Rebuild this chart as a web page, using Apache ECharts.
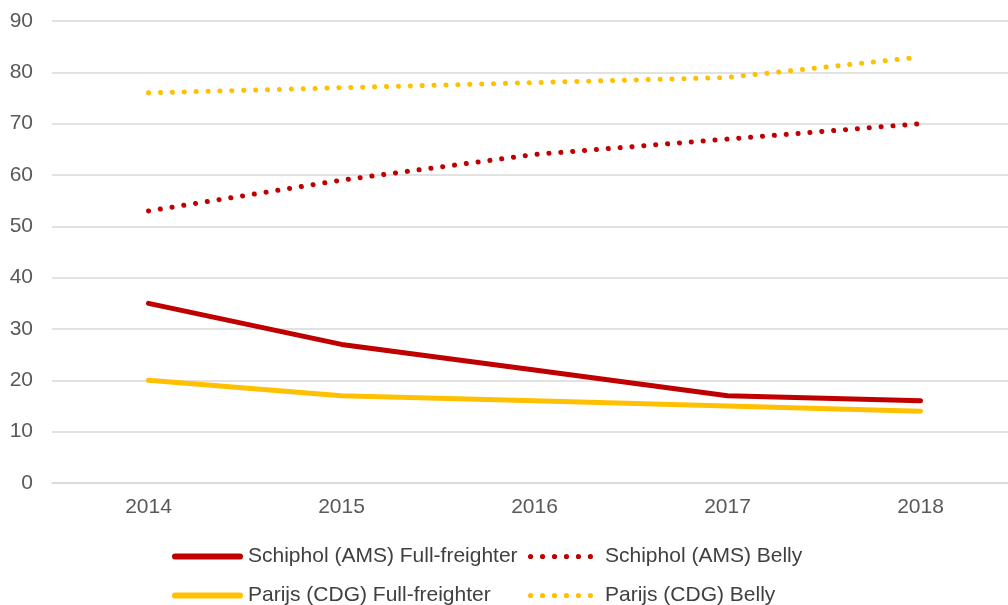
<!DOCTYPE html>
<html><head><meta charset="utf-8">
<script src="https://cdn.jsdelivr.net/npm/echarts@6/dist/echarts.min.js"></script>
<style>html,body{margin:0;padding:0;background:#fff;overflow:hidden;width:1008px;height:605px}#c{width:1017px;height:605px}</style>
</head><body><div id="c"></div>
<script>
const years = ['2014','2015','2016','2017','2018'];
const amsFull = [35, 27, 22, 17, 16];
const amsBelly = [53, 59, 64, 67, 70];
const cdgFull = [20, 17, 16, 15, 14];
const cdgBelly = [76, 77, 78, 79, 83];
const names = ['Schiphol (AMS) Full-freighter','Schiphol (AMS) Belly','Parijs (CDG) Full-freighter','Parijs (CDG) Belly'];

const RED = '#C00000', YEL = '#FFC000';
const font = '"Liberation Sans", Arial, sans-serif';
function dots(n, w, r){ let p=''; const step=(w-2*r)/(n-1); for(let i=0;i<n;i++){const cx=r+i*step; p+=`M${cx-r},${r}a${r},${r} 0 1,0 ${2*r},0a${r},${r} 0 1,0 ${-2*r},0z`;} return 'path://'+p; }
const solidIcon = 'path://M3,0L68,0A3,3 0 0,1 68,6L3,6A3,3 0 0,1 3,0z';
const dotIcon = dots(6, 65, 2.6);
const legendBase = {orient:'horizontal', itemGap:5, padding:0, textStyle:{fontSize:21, color:'#404040', fontFamily:font}};
const padText = Object.assign({}, legendBase.textStyle, {padding:[0,0,0,7]});
const chart = echarts.init(document.getElementById('c'));
chart.setOption({
  animation:false,
  grid:{left:52, right:0, top:21, bottom:122},
  xAxis:{type:'category', data:years, boundaryGap:true,
    axisLine:{show:true, lineStyle:{color:'#d9d9d9', width:1.5}}, axisTick:{show:false},
    axisLabel:{fontSize:21, color:'#595959', fontFamily:font, margin:14}},
  yAxis:{type:'value', min:0, max:90, interval:10,
    axisLine:{show:false}, axisTick:{show:false},
    splitLine:{lineStyle:{color:'#d9d9d9', width:1.5}},
    axisLabel:{fontSize:21, color:'#595959', fontFamily:font, margin:19}},
  legend:[
    Object.assign({}, legendBase, {left:172, top:546, itemWidth:71, itemHeight:6, data:[{name:names[0], icon:solidIcon}]}),
    Object.assign({}, legendBase, {left:528, top:546, itemWidth:65, itemHeight:5.2, textStyle:padText, data:[{name:names[1], icon:dotIcon}]}),
    Object.assign({}, legendBase, {left:172, top:585, itemWidth:71, itemHeight:6, data:[{name:names[2], icon:solidIcon}]}),
    Object.assign({}, legendBase, {left:528, top:585, itemWidth:65, itemHeight:5.2, textStyle:padText, data:[{name:names[3], icon:dotIcon}]})
  ],
  series:[
    {name:names[0], type:'line', data:amsFull, showSymbol:false, symbol:'none', color:RED, lineStyle:{color:RED, width:5, cap:'round', join:'round'}},
    {name:names[1], type:'line', data:amsBelly, showSymbol:false, symbol:'none', color:RED, lineStyle:{color:RED, width:5, type:[0.1,11.8], cap:'round'}},
    {name:names[2], type:'line', data:cdgFull, showSymbol:false, symbol:'none', color:YEL, lineStyle:{color:YEL, width:5, cap:'round', join:'round'}},
    {name:names[3], type:'line', data:cdgBelly, showSymbol:false, symbol:'none', color:YEL, lineStyle:{color:YEL, width:5, type:[0.1,11.8], cap:'round'}}
  ]
});
</script></body></html>
